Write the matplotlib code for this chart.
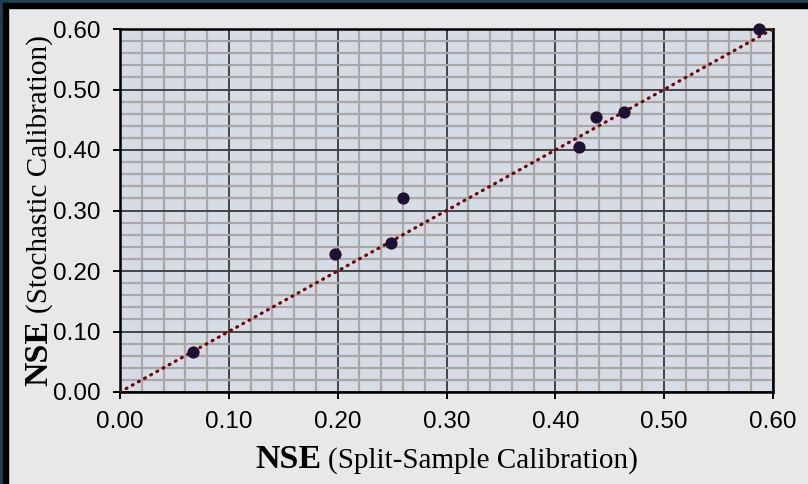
import matplotlib
matplotlib.use("Agg")
import matplotlib.pyplot as plt
from matplotlib.patches import Rectangle
from matplotlib.ticker import MultipleLocator, FormatStrFormatter

# Data (NSE values)
nse_split = [0.067, 0.198, 0.249, 0.260, 0.422, 0.437, 0.463, 0.587]
nse_stoch = [0.066, 0.228, 0.246, 0.321, 0.405, 0.454, 0.463, 0.600]

axis_ticks = [0.0, 0.1, 0.2, 0.3, 0.4, 0.5, 0.6]

W, H = 808, 484
fig = plt.figure(figsize=(W / 100, H / 100), dpi=100, facecolor="#e8e8e8")
ax = fig.add_axes([120 / W, (H - 392) / H, 653 / W, 363 / H])
ax.set_facecolor("#d6dce5")

# grid
ax.set_xlim(axis_ticks[0], axis_ticks[-1])
ax.set_ylim(axis_ticks[0], axis_ticks[-1])
ax.set_xticks(axis_ticks)
ax.set_yticks(axis_ticks)
ax.xaxis.set_minor_locator(MultipleLocator(0.02))
ax.yaxis.set_minor_locator(MultipleLocator(0.02))
ax.grid(which="minor", color="#aca7a7", lw=1.6, zorder=0)
ax.grid(which="major", color="#444444", lw=1.4, zorder=0)
ax.set_axisbelow(True)
ax.tick_params(which="minor", length=0)
ax.tick_params(which="major", direction="out", length=5, width=1.4,
               color="black", labelsize=17.5, pad=9)
ax.xaxis.set_major_formatter(FormatStrFormatter("%.2f"))
ax.yaxis.set_major_formatter(FormatStrFormatter("%.2f"))
for lab in ax.get_xticklabels() + ax.get_yticklabels():
    lab.set_fontfamily("Liberation Sans")
for sp in ax.spines.values():
    sp.set_color("black")
    sp.set_linewidth(1.8)

# 1:1 trend line and points
ax.axline((0, 0), slope=1, color="#6e0606", lw=2.3,
          linestyle=(0, (0.3, 1.9)), dash_capstyle="round", zorder=3)
ax.plot(nse_split, nse_stoch, "o", ms=8, mfc="#1b1238", mec="#2c0c2a",
        mew=0.8, clip_on=False, zorder=4)

# axis labels: bold "NSE" followed by regular text
serif = "Liberation Serif"
big, small = 24.5, 21
fig.canvas.draw()
r = fig.canvas.get_renderer()


def text_width(s, size, weight):
    t = fig.text(0, 0, s, fontsize=size, fontweight=weight, family=serif)
    w = t.get_window_extent(r).width
    t.remove()
    return w


gap = 7
w1 = text_width("NSE", big, "bold")
w2x = text_width("(Split-Sample Calibration)", small, "normal")
w2y = text_width("(Stochastic Calibration)", small, "normal")

# x label
cx = (120 + 773) / 2
x0 = cx - (w1 + gap + w2x) / 2
yb = (H - 468) / H
fig.text(x0 / W, yb, "NSE", fontsize=big, fontweight="bold", family=serif,
         va="baseline", ha="left")
fig.text((x0 + w1 + gap) / W, yb, "(Split-Sample Calibration)", fontsize=small,
         family=serif, va="baseline", ha="left")

# y label (rotated)
cy = H - (29 + 392) / 2
y0 = cy - (w1 + gap + w2y) / 2
xb = 47 / W
fig.text(xb, y0 / H, "NSE", fontsize=big, fontweight="bold", family=serif,
         rotation=90, rotation_mode="anchor", va="baseline", ha="left")
fig.text(xb, (y0 + w1 + gap) / H, "(Stochastic Calibration)", fontsize=small,
         family=serif, rotation=90, rotation_mode="anchor", va="baseline", ha="left")

# frame on left and top edges
fig.patches.append(Rectangle((0, 0), 3 / W, 1, transform=fig.transFigure,
                             color="#213f52", zorder=10))
fig.patches.append(Rectangle((0, 1 - 3 / H), 1, 3 / H, transform=fig.transFigure,
                             color="#213f52", zorder=10))
fig.patches.append(Rectangle((3 / W, 0), 5 / W, 1 - 3 / H, transform=fig.transFigure,
                             color="black", zorder=10))
fig.patches.append(Rectangle((3 / W, 1 - 8 / H), 1, 5 / H, transform=fig.transFigure,
                             color="black", zorder=10))

fig.savefig("out.png", dpi=100, facecolor=fig.get_facecolor())
